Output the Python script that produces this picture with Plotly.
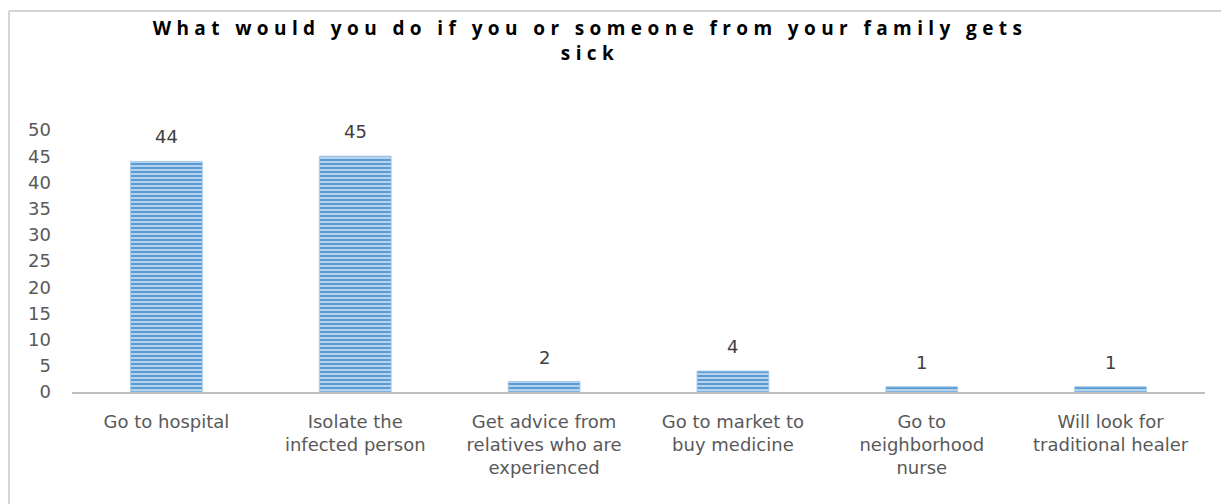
import plotly.graph_objects as go

categories = [
    "Go to hospital",
    "Isolate the<br>infected person",
    "Get advice from<br>relatives who are<br>experienced",
    "Go to market to<br>buy medicine",
    "Go to<br>neighborhood<br>nurse",
    "Will look for<br>traditional healer",
]
counts = [44, 45, 2, 4, 1, 1]
y_ticks = list(range(0, 51, 5))

title_text = "What would you do if you or someone from your family gets<br>sick"

W, H = 1221, 504
L, R, T, B = 72, 16, 130, 112
plot_w = W - L - R
plot_h = H - T - B
LABEL_FONT = "DejaVu Sans"


def px_to_paper_x(px):
    return (px - L) / plot_w


def px_to_paper_y(py):
    return (H - B - py) / plot_h


fig = go.Figure()
fig.add_trace(go.Bar(
    x=categories,
    y=counts,
    width=0.38,
    marker=dict(
        color="#DDEBF7",
        line=dict(color="#A9CBEA", width=1),
        pattern=dict(shape="-", fgcolor="#5B9BD5", bgcolor="#DDEBF7",
                     fgopacity=1, size=4, solidity=0.65),
    ),
    showlegend=False,
))

# value labels above each bar
for cat, val in zip(categories, counts):
    fig.add_annotation(
        x=cat, y=val, text=str(val), showarrow=False,
        yanchor="bottom", yshift=12,
        font=dict(family=LABEL_FONT, size=18, color="#404040"),
    )

# outer chart frame: left and top edges
frame = dict(color="#D4D4D4", width=2)
fig.add_shape(type="line", xref="paper", yref="paper", layer="above",
              x0=px_to_paper_x(9), x1=px_to_paper_x(9),
              y0=px_to_paper_y(11), y1=px_to_paper_y(504), line=frame)
fig.add_shape(type="line", xref="paper", yref="paper", layer="above",
              x0=px_to_paper_x(9), x1=px_to_paper_x(1221),
              y0=px_to_paper_y(11), y1=px_to_paper_y(11), line=frame)

fig.update_layout(
    width=W, height=H,
    margin=dict(l=L, r=R, t=T, b=B, pad=0),
    paper_bgcolor="white",
    plot_bgcolor="white",
    title=dict(
        text=title_text,
        xref="paper", x=px_to_paper_x(590), xanchor="center",
        yref="container", y=1 - 35 / H, yanchor="middle",
        font=dict(family="Open Sans", size=19, color="#000000", weight="bold"),
    ),
    font=dict(family=LABEL_FONT, color="#595959"),
)
fig.update_xaxes(
    showline=True, linecolor="#BFBFBF", linewidth=2,
    ticks="", showgrid=False, ticklabelstandoff=12,
    tickfont=dict(family=LABEL_FONT, size=18, color="#595959"),
    tickangle=0,
)
fig.update_yaxes(
    range=[0, 50], tickvals=y_ticks, showgrid=False, showline=False,
    zeroline=False, ticks="", ticklabelstandoff=20,
    tickfont=dict(family=LABEL_FONT, size=18, color="#595959"),
)

fig.write_html(
    "out.html",
    post_script=(
        "var t=document.querySelector('.gtitle');"
        "if(t){t.style.letterSpacing='5.4px';}"
    ),
)
